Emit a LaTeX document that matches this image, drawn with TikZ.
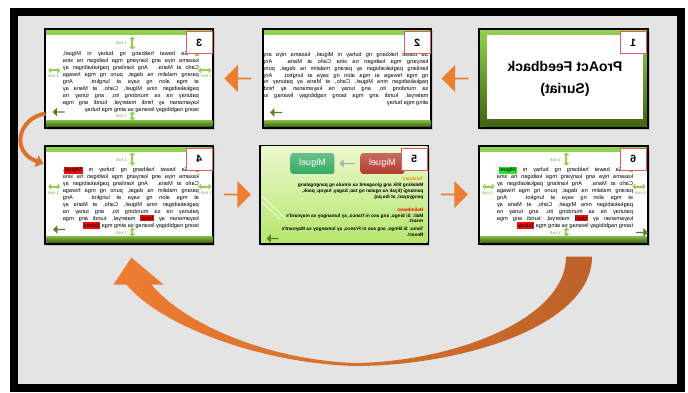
\documentclass[tikz,border=0pt]{standalone}
\usepackage{fontspec}
\setmainfont{Liberation Sans}
\usetikzlibrary{positioning}
\usetikzlibrary{calc, shapes.arrows, arrows.meta, shadows}

\definecolor{bggrey}{RGB}{228,228,228}
\definecolor{slgreen}{RGB}{146,208,80}
\definecolor{dkgreen}{RGB}{84,130,30}
\definecolor{olivegreen}{RGB}{62,100,15}
\definecolor{boxred}{RGB}{225,95,95}
\definecolor{arrorange}{RGB}{237,125,49}
\definecolor{arrbrown}{RGB}{190,98,40}
\definecolor{hlred}{RGB}{238,12,12}
\definecolor{hlgreen}{RGB}{45,228,45}
\definecolor{btnred}{RGB}{178,58,45}
\definecolor{btngreen}{RGB}{52,170,100}
\definecolor{limetop}{RGB}{236,248,205}
\definecolor{limebot}{RGB}{182,230,110}
\definecolor{tandaan}{RGB}{228,150,0}

\newcommand{\hl}[2]{{\setlength{\fboxsep}{0.6pt}\colorbox{#1}{#2}}}
\newcommand{\storytext}[3]{\textcolor{slgreen}{\rule[-0.4pt]{3pt}{3pt}}~Sa bawat hakbang ng buhay ni #1\linebreak
kasama niya ang kanyang mga kaibigan na sina\linebreak
Carlo at Maria. Ang kanilang pagkakaibigan ay\linebreak
parang malalim na dagat, puno ng mga hiwaga\linebreak
at mga alon ng saya at lungkot. Ang\linebreak
pagkakaibigan nina Miguel, Carlo, at Maria ay\linebreak
patunay na sa mundong ito, ang tunay na\linebreak
kayamanan ay #2 materyal, kundi ang mga\linebreak
taong nagbibigay liwanag sa ating mga #3.}

\begin{document}
\begin{tikzpicture}[x=0.025cm, y=-0.025cm,
  slide/.style={draw=black, line width=0.05cm, fill=white, minimum width=4.2cm, minimum height=2.45cm, inner sep=0, outer sep=0,
    drop shadow={opacity=0.3, shadow xshift=0.05cm, shadow yshift=-0.05cm}},
  numbox/.style={draw=boxred, fill=white, line width=0.4pt, minimum width=0.65cm, minimum height=0.55cm, inner sep=0,
    font=\bfseries\fontsize{7.5}{7.5}\selectfont},
  story/.style={inner sep=0, font=\fontsize{4}{4.9}\selectfont},
  inch/.style={draw=slgreen, line width=0.05cm, arrows={Triangle[length=0.07cm,width=0.15cm]-Triangle[length=0.07cm,width=0.15cm]}},
  inchlabel/.style={text=slgreen!80!black, font=\fontsize{3}{3}\selectfont, inner sep=0},
  blockarrow/.style={single arrow, fill=arrorange, draw=none, inner sep=0, minimum height=0.675cm, minimum width=0.675cm,
    single arrow head extend=0.1cm},
  backarrow/.style={single arrow, fill=dkgreen, draw=none, inner sep=0, minimum height=0.3cm, minimum width=0.22cm,
    single arrow head extend=0.04cm},
  button/.style={rounded corners=2pt, minimum width=1.1cm, minimum height=0.52cm, inner sep=0, text=white,
    font=\fontsize{6.5}{6.5}\selectfont},
  loopback/.style={draw=arrorange!60!arrbrown, line width=0.1cm, arrows={-Triangle[length=0.18cm,width=0.3cm]}}]
\useasboundingbox (0,0) rectangle (688,393);
\fill[black] (10,8) rectangle (685,392);
\fill[bggrey] (18,16) rectangle (677,384);

\node[slide] (s1) at (563.5,78.5) {};
\node[slide, left=1.2cm of s1] (s2) {};
\node[slide, left=1.25cm of s2] (s3) {};
\node[slide, below=0.45cm of s3] (s4) {};
\node[slide, right=1.175cm of s4] (s5) {};
\node[slide, right=1.275cm of s5] (s6) {};

\shade[top color=slgreen, bottom color=olivegreen] ($(s1.north west)+(1,1)$) rectangle ($(s1.south east)+(-1,-1)$);
\fill[white] ($(s1.north west)+(8,6)$) rectangle ($(s1.north west)+(164,90)$);
\node[inner sep=0, font=\bfseries\fontsize{10}{15.6}\selectfont] (title) at ($(s1.center)+(1.5,0.5)$)
  {\reflectbox{\parbox{3.6cm}{\centering ProAct Feedback\\(Suriat)}}};

\foreach \s in {s2,s3,s4,s6}{
  \fill[slgreen] ($(\s.north west)+(1,1)$) rectangle ($(\s.north east)+(-1,6)$);
  \shade[top color=slgreen!70!dkgreen, bottom color=olivegreen] ($(\s.south west)+(1,-7)$) rectangle ($(\s.south east)+(-1,-1)$);
}

\foreach \s in {s3,s4,s6}{
  \draw[inch] ($(\s.north west)+(87,7)$) -- ($(\s.north west)+(87,20)$);
  \draw[inch] ($(\s.north west)+(87,82)$) -- ($(\s.north west)+(87,91)$);
  \draw[inch] ($(\s.north west)+(3,41)$) -- ($(\s.north west)+(15,41)$);
  \draw[inch] ($(\s.north west)+(153,41)$) -- ($(\s.north west)+(166,41)$);
  \node[inchlabel] (\s-it) at ($(\s.north west)+(76,14)$) {\reflectbox{1 inch}};
  \node[inchlabel] (\s-ib) at ($(\s.north west)+(76,87)$) {\reflectbox{1 inch}};
  \node[inchlabel] (\s-il) at ($(\s.north west)+(8,47)$) {\reflectbox{1 inch}};
  \node[inchlabel] (\s-ir) at ($(\s.north west)+(161,47)$) {\reflectbox{1 inch}};
}

\node[story] (t2) at ($(s2.center)+(-2,0.5)$) {\reflectbox{\parbox{4.15cm}{Sa bawat hakbang ng buhay ni Miguel, kasama niya ang\linebreak
kanyang mga kaibigan na sina Carlo at Maria. Ang\linebreak
kanilang pagkakaibigan ay parang malalim na dagat, puno\linebreak
ng mga hiwaga at mga alon ng saya at lungkot. Ang\linebreak
pagkakaibigan nina Miguel, Carlo, at Maria ay patunay na\linebreak
sa mundong ito, ang tunay na kayamanan ay hindi\linebreak
materyal, kundi ang mga taong nagbibigay liwanag sa\linebreak
ating mga buhay}}};
\node[story] (t3) at ($(s3.center)+(1.5,3.5)$) {\reflectbox{\parbox{3.4cm}{\storytext{Miguel,}{hindi}{buhay}}}};
\node[story] (t4) at ($(s4.center)+(1.5,3.5)$) {\reflectbox{\parbox{3.4cm}{\storytext{\hl{hlred}{Miguel},}{\hl{hlred}{hindi}}{\hl{hlred}{buhay}}}}};
\node[story] (t6) at ($(s6.center)+(1.5,3.5)$) {\reflectbox{\parbox{3.4cm}{\storytext{\hl{hlgreen}{Miguel},}{\hl{hlred}{hindi}}{\hl{hlred}{buhay}}}}};

\shade[top color=limetop, bottom color=limebot] ($(s5.north west)+(1,1)$) rectangle ($(s5.south east)+(-1,-1)$);
\draw[white, thin] ($(s5.north west)+(1,50)$) -- ($(s5.north west)+(26,74)$);
\draw[white, thin] ($(s5.north west)+(1,56)$) -- ($(s5.north west)+(20,74)$);
\node[button, top color=btngreen!75!white, bottom color=btngreen] (bg) at ($(s5.center)+(-32,-31)$) {\reflectbox{Miguel}};
\node[button, top color=btnred!75!white, bottom color=btnred] (br) at ($(s5.center)+(38,-31)$) {\reflectbox{Miguel}};
\node[single arrow, fill=gray!65, draw=none, inner sep=0, minimum height=0.38cm, minimum width=0.2cm,
  single arrow head extend=0.05cm, shape border rotate=180] (ga) at ($(bg.east)!0.5!(br.west)$) {};
\node[inner sep=0, font=\bfseries\fontsize{3.4}{4.05}\selectfont] (t5) at ($(s5.center)+(-1,12.5)$) {\reflectbox{\parbox{4cm}{\raggedright
\textcolor{tandaan}{Tandaan!}\\
Malaking titik ang ginagamit sa simula ng pangngalang\\
pantangi (tiyak na ngalan ng tao, bagay, hayop, pook,\\
pangyayari, at iba pa).\\[5.5pt]
\textcolor{red}{Halimbawa:}\\
Mali: Si bingo, ang aso ni franco, ay lumangoy sa maynard's\\
resort.\\[1.6pt]
Tama: Si Bingo, ang aso ni Franco, ay lumangoy sa Maynard's\\
Resort.}}};

\node[backarrow, shape border rotate=180] (b2) at ($(s2.north west)+(13,83)$) {};
\node[backarrow, shape border rotate=180] (b3) at ($(s3.north west)+(13.5,82.5)$) {};
\node[backarrow, shape border rotate=180] (b4) at ($(s4.north west)+(14,84)$) {};
\node[backarrow, shape border rotate=180] (b5) at ($(s5.north west)+(12.5,93)$) {};
\node[backarrow] (b6) at ($(s6.north west)+(162,87)$) {};

\foreach \s/\n in {s1/1,s2/2,s3/3,s4/4,s5/5,s6/6}
  \node[numbox, anchor=north east] (n\n) at ($(\s.north east)+(-1,2)$) {\reflectbox{\n}};

\node[blockarrow, shape border rotate=180] (a12) at ($(s1.west)!0.5!(s2.east)$) {};
\node[blockarrow, shape border rotate=180] (a23) at ($(s2.west)!0.5!(s3.east)$) {};
\node[blockarrow] (a45) at ($(s4.east)!0.5!(s5.west)$) {};
\node[blockarrow] (a56) at ($(s5.east)!0.5!(s6.west)$) {};

\coordinate (c3) at ($(s3.west)+(0,35)$);
\coordinate (c4) at ($(s4.west)+(-2,-31)$);
\draw[loopback] (c3) .. controls (18,118) and (10,152) .. (c4);

\coordinate (bt) at ($(s6.south)+(15.5,13)$);
\coordinate (bh) at ($(s4.south)+(2,14)$);
\shade[left color=arrorange, right color=arrbrown] ($(bt)+(13,0)$) .. controls ($(bt)+(13,70)$) and (460,366) .. (355,366)
  .. controls (270,364) and (165,330) .. ($(bh)+(-5,27)$) -- ($(bh)+(-18,27)$) -- (bh) -- ($(bh)+(32,27)$) -- ($(bh)+(20,27)$)
  .. controls (185,325) and (270,360) .. (355,363) .. controls (450,362) and ($(bt)+(-13,64)$) .. ($(bt)+(-13,0)$) -- cycle;

\end{tikzpicture}
\end{document}
